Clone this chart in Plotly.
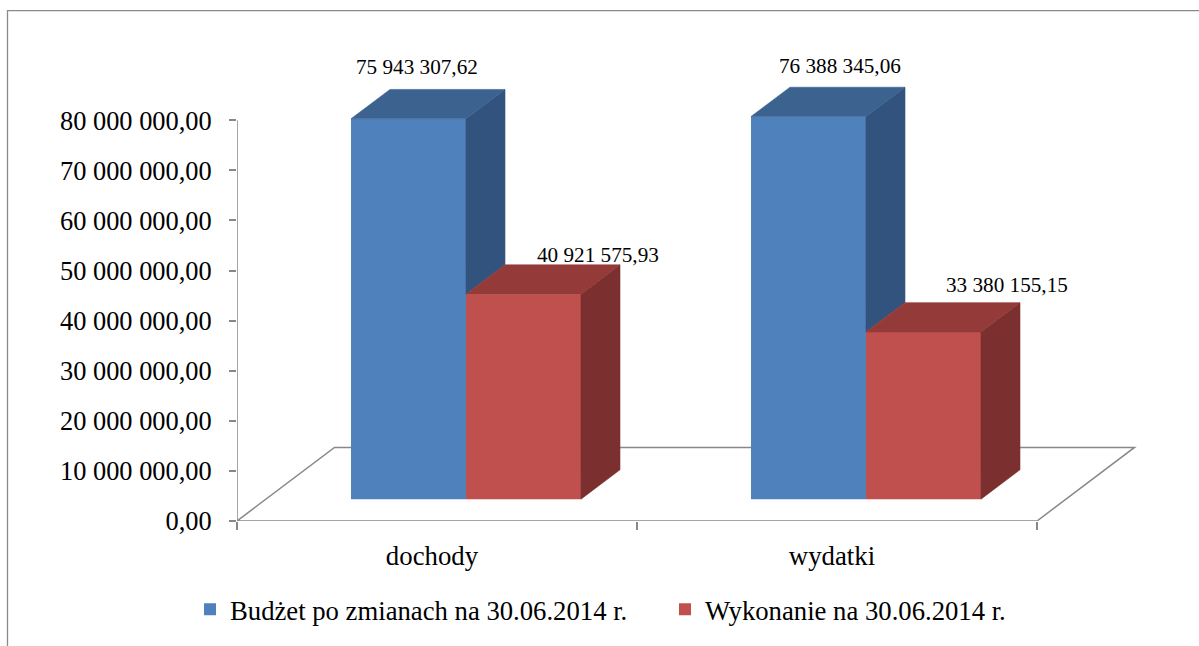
import plotly.graph_objects as go

# ---------------- data ----------------
categories = ["dochody", "wydatki"]
series_names = ["Budżet po zmianach na 30.06.2014 r.", "Wykonanie na 30.06.2014 r."]
budzet = [75943307.62, 76388345.06]
wykonanie = [40921575.93, 33380155.15]
y_tick_values = [0, 10e6, 20e6, 30e6, 40e6, 50e6, 60e6, 70e6, 80e6]

# ---------------- style / geometry ----------------
W, H = 1199, 646
L_PX, R_PX, T_PX, B_PX = 237, 1140, 40, 524      # plot area in pixels
CAT_PX = 400.0                                    # pixels per category step
CAT0_PX = 437.0                                   # pixel of first category centre
VPP = 1e7 / 50.4                                  # value per pixel (vertical)

front_colors = ["#4F81BD", "#C0504D"]
top_colors = ["#3C6390", "#943B39"]
side_colors = ["#32537D", "#7B302F"]
grid_gray = "#888888"
FONT = "Liberation Serif"

# 3-D projection (pixels)
floor_dx_px, floor_dy_px = 97.5, 74.0
front_up_px = 22.0
front_dx_px = front_up_px / floor_dy_px * floor_dx_px
bar_dx_px, bar_dy_px = 39.0, 29.5
bar_w_px = 115.0
cat_label_shift_px = -5.0

# data-label shifts (pixels, relative to front-top centre of each bar)
label_dx = [[9, 32], [75, 84]]
label_dy = [[52, 51], [39, 47]]


def xu(px):
    return px / CAT_PX


def yu(px):
    return px * VPP


def pl(v):
    return f"{v:,.2f}".replace(",", " ").replace(".", ",")


x_range = [(L_PX - CAT0_PX) / CAT_PX, (R_PX - CAT0_PX) / CAT_PX]
y_range = [0, yu(B_PX - T_PX)]


def paper_x(px):
    return (px - L_PX) / (R_PX - L_PX)


def paper_y(py):
    return (B_PX - py) / (B_PX - T_PX)


xs = list(range(len(categories)))
series = [budzet, wykonanie]
b0 = yu(front_up_px)
w = xu(bar_w_px)
ddx, ddy = xu(bar_dx_px), yu(bar_dy_px)
offsets = [-w + xu(front_dx_px), xu(front_dx_px)]

fig = go.Figure()

# front faces (real bars)
for s, vals in enumerate(series):
    fig.add_trace(go.Bar(
        x=xs, y=vals, base=[b0] * len(vals), width=w, offset=offsets[s],
        name=series_names[s], marker=dict(color=front_colors[s], line=dict(width=0)),
        legend="legend" if s == 0 else "legend2", hoverinfo="skip",
    ))

# top and side faces
for s, vals in enumerate(series):
    for i, v in enumerate(vals):
        xl = xs[i] + offsets[s]
        xr = xl + w
        top = b0 + v
        nxt = series[s + 1][i] if s + 1 < len(series) else 0
        base = b0 + min(nxt, v)
        fig.add_trace(go.Scatter(
            x=[xr, xr + ddx, xr + ddx, xr, xr],
            y=[base, base + ddy, top + ddy, top, base],
            mode="lines", fill="toself", fillcolor=side_colors[s],
            line=dict(width=0.6, color=side_colors[s]), showlegend=False, hoverinfo="skip",
        ))
        fig.add_trace(go.Scatter(
            x=[xl, xr, xr + ddx, xl + ddx, xl],
            y=[top, top, top + ddy, top + ddy, top],
            mode="lines", fill="toself", fillcolor=top_colors[s],
            line=dict(width=0.6, color=top_colors[s]), showlegend=False, hoverinfo="skip",
        ))
        fig.add_annotation(
            x=xs[i] + offsets[s] + w / 2, y=top, xref="x", yref="y",
            text=pl(v), showarrow=False, xanchor="center", yanchor="middle",
            xshift=label_dx[s][i], yshift=label_dy[s][i],
            font=dict(family=FONT, size=21.2, color="black"),
        )

# floor and vertical axis line
fx0, fx1 = -0.5, len(categories) - 0.5
fdx, fdy = xu(floor_dx_px), yu(floor_dy_px)
fig.add_shape(type="path", xref="x", yref="y", layer="below",
              path=f"M{fx0},0 L{fx1},0 L{fx1 + fdx},{fdy} L{fx0 + fdx},{fdy} Z",
              line=dict(color=grid_gray, width=1.5))
fig.add_shape(type="line", xref="x", yref="y", x0=fx0, x1=fx0, y0=0, y1=y_tick_values[-1],
              line=dict(color=grid_gray, width=1.5))

# outer chart border
fig.add_shape(type="rect", xref="paper", yref="paper",
              x0=paper_x(7.5), x1=paper_x(W + 20), y0=paper_y(10.5), y1=paper_y(H + 20),
              line=dict(color="#8A8A8A", width=1.3), fillcolor="rgba(0,0,0,0)")

fig.update_layout(
    width=W, height=H,
    margin=dict(l=L_PX, r=W - R_PX, t=T_PX, b=H - B_PX),
    paper_bgcolor="white", plot_bgcolor="white",
    font=dict(family=FONT, color="black"),
    showlegend=True,
    legend=dict(orientation="h", x=paper_x(190), y=paper_y(613), xanchor="left", yanchor="middle",
                font=dict(family=FONT, size=26.7, color="black"), bgcolor="rgba(0,0,0,0)"),
    legend2=dict(orientation="h", x=paper_x(665), y=paper_y(613), xanchor="left", yanchor="middle",
                 font=dict(family=FONT, size=26.7, color="black"), bgcolor="rgba(0,0,0,0)"),
    xaxis=dict(range=x_range, tickmode="array", tickvals=[x + xu(cat_label_shift_px) for x in xs],
               ticktext=categories,
               ticks="", showline=False, showgrid=False, zeroline=False,
               tickfont=dict(family=FONT, size=26.8, color="black"), ticklabelstandoff=16,
               minor=dict(tickmode="array", tickvals=[fx0 + k for k in range(len(categories) + 1)],
                          ticks="outside", ticklen=8, tickwidth=1.5, tickcolor=grid_gray),
               fixedrange=True),
    yaxis=dict(range=y_range, tickmode="array", tickvals=y_tick_values,
               ticktext=[pl(v) for v in y_tick_values], ticks="outside", ticklen=7,
               tickwidth=1.5, tickcolor=grid_gray, showline=False, showgrid=False,
               zeroline=False, tickfont=dict(family=FONT, size=26.4, color="black"),
               ticklabelstandoff=12, fixedrange=True),
)

fig.write_html("out.html", config={"displayModeBar": False},
               post_script="document.body.style.margin='0';document.body.style.overflow='hidden';")
